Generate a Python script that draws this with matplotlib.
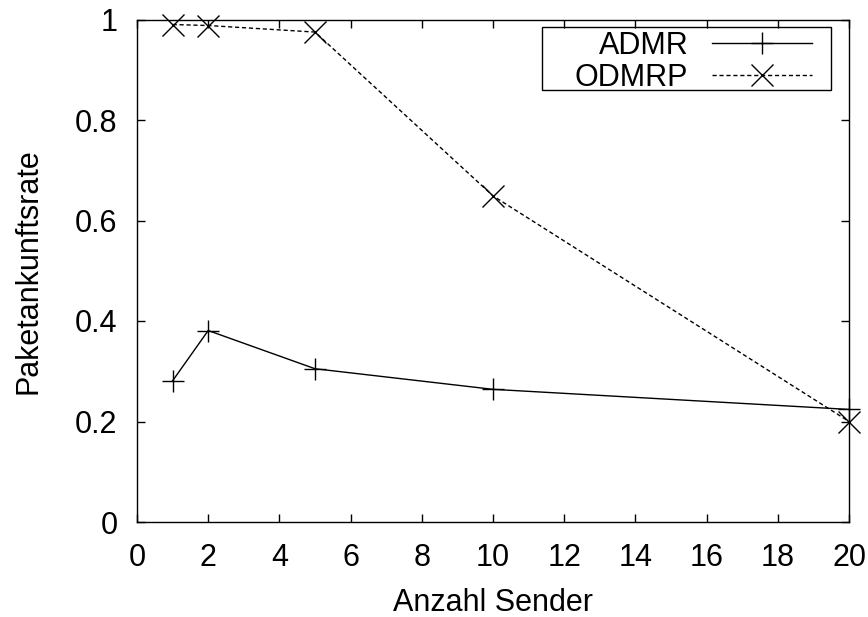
import matplotlib
matplotlib.use("Agg")
import matplotlib.pyplot as plt
from matplotlib.patches import Rectangle

senders = [1, 2, 5, 10, 20]
admr = [0.281, 0.381, 0.305, 0.264, 0.224]
odmrp = [0.990, 0.988, 0.975, 0.649, 0.200]
xticks = [0, 2, 4, 6, 8, 10, 12, 14, 16, 18, 20]
yticks = [0, 0.2, 0.4, 0.6, 0.8, 1]
ytick_labels = ["0", "0.2", "0.4", "0.6", "0.8", "1"]

FS = 22
W, H = 868, 617
plt.rcParams['font.family'] = ['Liberation Sans', 'DejaVu Sans']
fig = plt.figure(figsize=(W / 100, H / 100), dpi=100)
ax = fig.add_axes([137 / W, (H - 522) / H, (849 - 137) / W, (522 - 19.5) / H])

ax.plot(senders, admr, color='black', linewidth=1.0, marker='+', markersize=16.5,
        markeredgewidth=1.0, label='ADMR', clip_on=False)
ax.plot(senders, odmrp, color='black', linewidth=1.0, linestyle=(0, (3, 2)), marker='x',
        markersize=16.5, markeredgewidth=1.0, label='ODMRP', clip_on=False)

ax.set_xlim(0, 20)
ax.set_ylim(0, 1)
ax.set_xticks(xticks)
ax.set_yticks(yticks)
ax.set_yticklabels(ytick_labels)
ax.tick_params(direction='in', length=5.5, width=1, top=True, right=True, labelsize=FS)
ax.tick_params(axis='x', pad=15)
ax.tick_params(axis='y', pad=14)
for s in ax.spines.values():
    s.set_linewidth(1.0)

ax.set_xlabel('Anzahl Sender', fontsize=FS, labelpad=11)
ax.set_ylabel('Paketankunftsrate', fontsize=FS, labelpad=23)

leg = fig.legend(loc='upper right', bbox_to_anchor=(812 / W, (H - 31) / H), fontsize=FS,
                 markerfirst=False, frameon=False, handlelength=3.27,
                 borderpad=0.0, labelspacing=0.05, handletextpad=0.78, borderaxespad=0.0)
for t in leg.get_texts():
    t.set_ha('right')

fig.add_artist(Rectangle((542 / W, (H - 90) / H), (831 - 542) / W, 63 / H,
                         transform=fig.transFigure, fill=False, edgecolor='black',
                         linewidth=1.0))

fig.savefig('out.png', dpi=100)
